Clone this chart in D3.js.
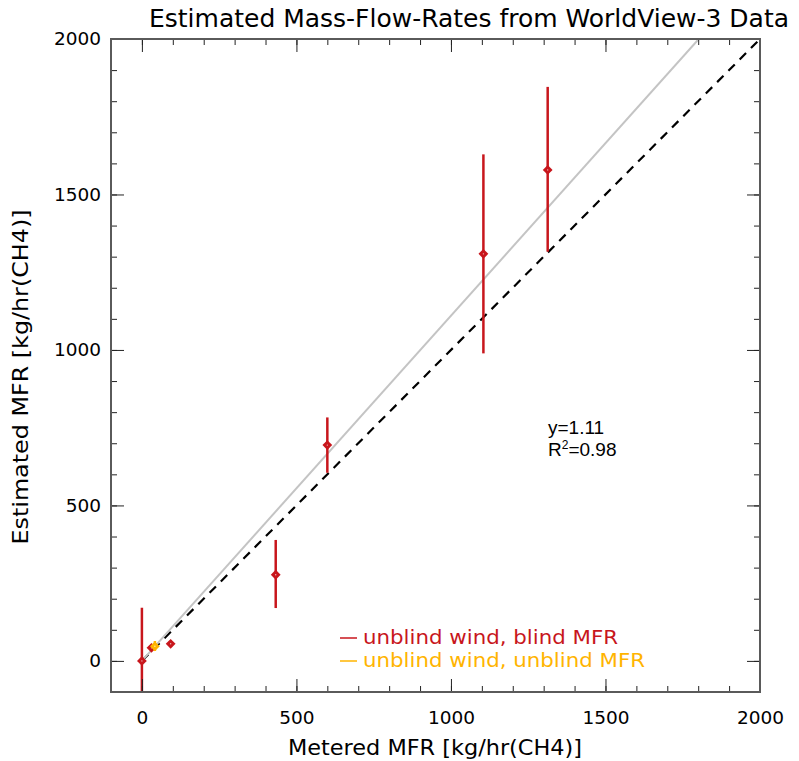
<!DOCTYPE html>
<html>
<head>
<meta charset="utf-8">
<script src="https://cdn.jsdelivr.net/npm/d3@7"></script>
<style>
  html, body { margin: 0; padding: 0; background: #fff; }
  svg { display: block; }
  text { font-family: "DejaVu Sans", sans-serif; }
</style>
</head>
<body>
<svg id="chart" width="799" height="761"></svg>
<script>
// ---- data ----
const titleText = "Estimated Mass-Flow-Rates from WorldView-3 Data";
const xLabelText = "Metered MFR [kg/hr(CH4)]";
const yLabelText = "Estimated MFR [kg/hr(CH4)]";
const majorTicks = [0, 500, 1000, 1500, 2000];
const minorTicks = d3.range(-100, 2001, 100);

// red series: unblind wind, blind MFR
const redX  = [0, 31, 93, 433, 600, 1105, 1313];
const redY  = [0, 42, 55, 277, 694, 1309, 1579];
const redLo = [-150, 36, 50, 170, 605, 989, 1316];
const redHi = [171, 48, 60, 389, 783, 1629, 1846];

// orange series: unblind wind, unblind MFR
const orgX  = [42];
const orgY  = [47];
const orgLo = [32];
const orgHi = [64];

const fitSlope = 1.11;
const fitLabel = "y=1.11";
const r2Value = "0.98";
const legendLabels = ["unblind wind, blind MFR", "unblind wind, unblind MFR"];

const RED = "#c8161c";
const ORANGE = "#ffb400";

// ---- layout ----
const svg = d3.select("#chart");
const x = d3.scaleLinear().domain([-100, 2000]).range([111, 760]);
const y = d3.scaleLinear().domain([-100, 2000]).range([692, 39]);

svg.append("defs").append("clipPath").attr("id", "clip")
  .append("rect")
  .attr("x", x(-100)).attr("y", y(2000))
  .attr("width", x(2000) - x(-100)).attr("height", y(-100) - y(2000));

const plot = svg.append("g").attr("clip-path", "url(#clip)");

// 1:1 dashed line
plot.append("line")
  .attr("x1", x(0)).attr("y1", y(0))
  .attr("x2", x(2000)).attr("y2", y(2000))
  .attr("stroke", "#000").attr("stroke-width", 2.2)
  .attr("stroke-dasharray", "9,7");

// fit line
plot.append("line")
  .attr("x1", x(0)).attr("y1", y(0))
  .attr("x2", x(2000 / fitSlope)).attr("y2", y(2000))
  .attr("stroke", "#c4c4c4").attr("stroke-width", 2);

// error bars + diamond markers
function drawSeries(xs, ys, lo, hi, color) {
  const idx = d3.range(xs.length);
  plot.selectAll(null).data(idx).enter().append("line")
    .attr("x1", i => x(xs[i])).attr("x2", i => x(xs[i]))
    .attr("y1", i => y(lo[i])).attr("y2", i => y(hi[i]))
    .attr("stroke", color).attr("stroke-width", 2.5);
  plot.selectAll(null).data(idx).enter().append("path")
    .attr("d", d3.symbol().type(d3.symbolSquare).size(48))
    .attr("transform", i => `translate(${x(xs[i])},${y(ys[i])}) rotate(45)`)
    .attr("fill", color);
  plot.selectAll(null).data(idx).enter().append("circle")
    .attr("cx", i => x(xs[i])).attr("cy", i => y(ys[i])).attr("r", 0.7)
    .attr("fill", "#fff").attr("opacity", 0.7);
}
drawSeries(redX, redY, redLo, redHi, RED);
drawSeries(orgX, orgY, orgLo, orgHi, ORANGE);

// ---- axes ----
function styleAxis(g) {
  g.select(".domain").remove();
  g.selectAll(".tick line").attr("stroke", "#222").attr("stroke-width", 1);
  g.selectAll(".tick text").attr("font-family", "DejaVu Sans").attr("font-size", 18.5).attr("fill", "#000");
}
// bottom
svg.append("g").attr("transform", `translate(0,${y(-100)})`)
  .call(d3.axisBottom(x).tickValues(minorTicks).tickSize(-6).tickFormat(""))
  .call(styleAxis);
svg.append("g").attr("transform", `translate(0,${y(-100)})`)
  .call(d3.axisBottom(x).tickValues(majorTicks).tickSize(-13).tickPadding(19).tickFormat(d3.format("d")))
  .call(styleAxis);
// top
svg.append("g").attr("transform", `translate(0,${y(2000)})`)
  .call(d3.axisTop(x).tickValues(minorTicks).tickSize(-6).tickFormat(""))
  .call(styleAxis);
svg.append("g").attr("transform", `translate(0,${y(2000)})`)
  .call(d3.axisTop(x).tickValues(majorTicks).tickSize(-13).tickFormat(""))
  .call(styleAxis);
// left
svg.append("g").attr("transform", `translate(${x(-100)},0)`)
  .call(d3.axisLeft(y).tickValues(minorTicks).tickSize(-6).tickFormat(""))
  .call(styleAxis);
svg.append("g").attr("transform", `translate(${x(-100)},0)`)
  .call(d3.axisLeft(y).tickValues(majorTicks).tickSize(-13).tickPadding(10).tickFormat(d3.format("d")))
  .call(styleAxis);
// right
svg.append("g").attr("transform", `translate(${x(2000)},0)`)
  .call(d3.axisRight(y).tickValues(minorTicks).tickSize(-6).tickFormat(""))
  .call(styleAxis);
svg.append("g").attr("transform", `translate(${x(2000)},0)`)
  .call(d3.axisRight(y).tickValues(majorTicks).tickSize(-13).tickFormat(""))
  .call(styleAxis);

// frame
svg.append("rect")
  .attr("x", x(-100)).attr("y", y(2000))
  .attr("width", x(2000) - x(-100)).attr("height", y(-100) - y(2000))
  .attr("fill", "none").attr("stroke", "#5a5a5a").attr("stroke-width", 2);

// ---- text ----
svg.append("text")
  .attr("x", 149).attr("y", 27)
  .attr("font-size", 25)
  .attr("textLength", 640).attr("lengthAdjust", "spacingAndGlyphs")
  .text(titleText);

svg.append("text")
  .attr("x", 435).attr("y", 755)
  .attr("text-anchor", "middle")
  .attr("font-size", 22)
  .attr("textLength", 294).attr("lengthAdjust", "spacingAndGlyphs")
  .text(xLabelText);

svg.append("text")
  .attr("transform", "translate(28,377) rotate(-90)")
  .attr("text-anchor", "middle")
  .attr("font-size", 22)
  .attr("textLength", 335).attr("lengthAdjust", "spacingAndGlyphs")
  .text(yLabelText);

// fit annotation
const ann = svg.append("g").attr("font-size", 19);
ann.append("text").attr("x", 548).attr("y", 434)
  .style("font-family", "Liberation Sans, Arial, sans-serif").text(fitLabel);
const r2 = ann.append("text").attr("x", 548).attr("y", 456)
  .style("font-family", "Liberation Sans, Arial, sans-serif");
r2.append("tspan").text("R");
r2.append("tspan").attr("font-size", 12).attr("dy", -7).text("2");
r2.append("tspan").attr("dy", 7).text("=" + r2Value);

// legend
const legColors = [RED, ORANGE];
const legY = [638, 661];
legendLabels.forEach((lab, i) => {
  svg.append("line")
    .attr("x1", 340).attr("x2", 357)
    .attr("y1", legY[i]).attr("y2", legY[i])
    .attr("stroke", legColors[i]).attr("stroke-width", 1.5);
  svg.append("text")
    .attr("x", 363).attr("y", legY[i] + 6)
    .attr("font-size", 19)
    .attr("fill", legColors[i])
    .attr("textLength", i === 0 ? 255 : 282).attr("lengthAdjust", "spacingAndGlyphs")
    .text(lab);
});
</script>
</body>
</html>
